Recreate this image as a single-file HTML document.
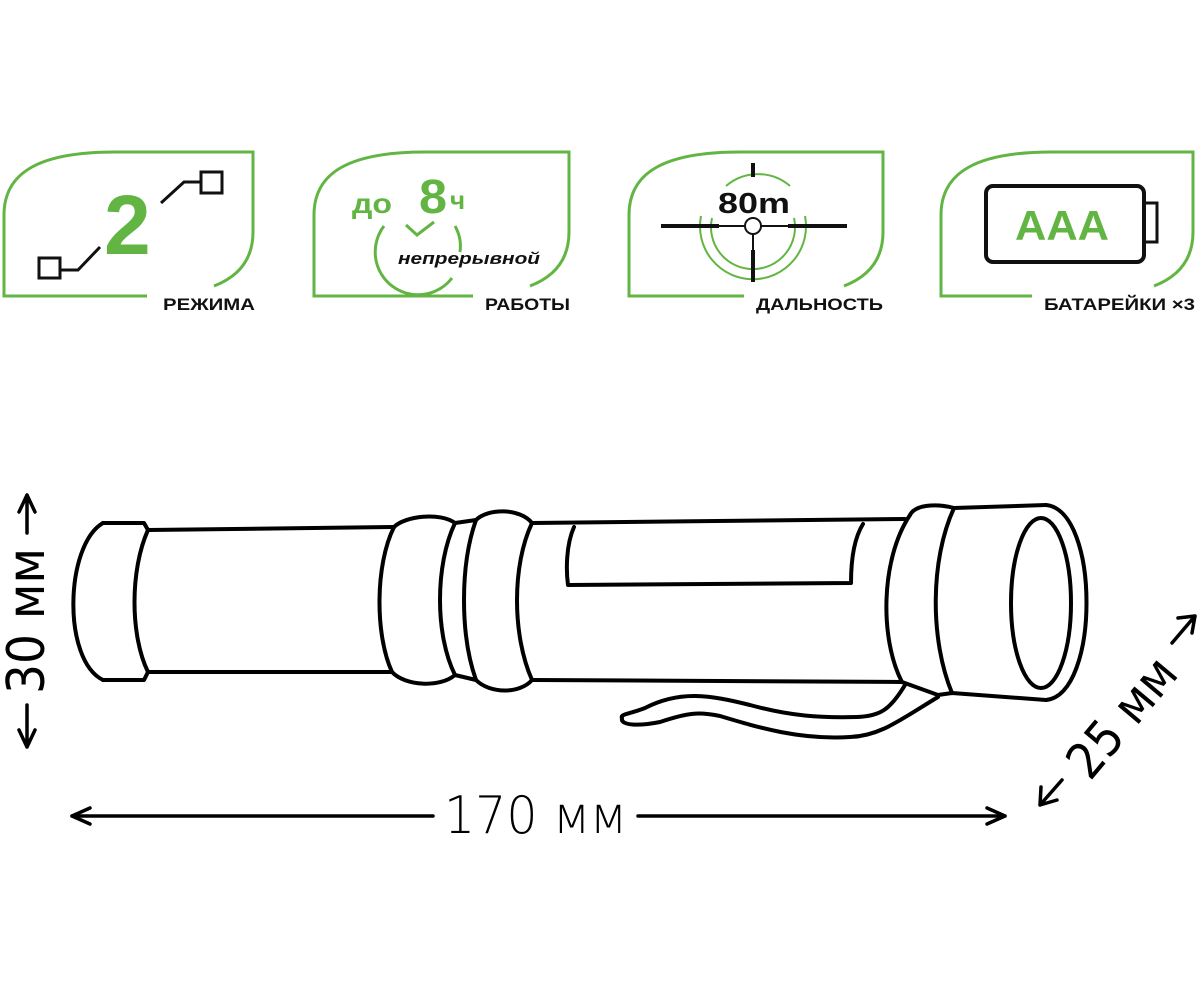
<!DOCTYPE html>
<html><head><meta charset="utf-8"><style>html,body{margin:0;padding:0;background:#fff}svg{display:block}</style></head>
<body>
<svg width="1200" height="982" viewBox="0 0 1200 982" xmlns="http://www.w3.org/2000/svg">
<rect width="1200" height="982" fill="#fff"/>
<g fill="none" stroke="#62b543" stroke-width="3">
  <path d="M147,296 H4 V215 C4,172 40,152 115,152 H253 V232 C253,258 240,276 214,286"/>
  <path d="M473,296 H314 V215 C314,172 350,152 425,152 H569 V232 C569,258 556,276 530,286"/>
  <path d="M744,296 H629 V215 C629,172 665,152 740,152 H883 V232 C883,258 870,276 844,286"/>
  <path d="M1032,296 H941 V215 C941,172 977,152 1052,152 H1193 V232 C1193,258 1180,276 1154,286"/>
</g>
<g font-family="'Liberation Sans', sans-serif" font-weight="bold" font-size="17" fill="#111">
  <text x="163" y="310" textLength="92" lengthAdjust="spacingAndGlyphs">РЕЖИМА</text>
  <text x="485" y="310" textLength="85" lengthAdjust="spacingAndGlyphs">РАБОТЫ</text>
  <text x="756" y="310" textLength="127" lengthAdjust="spacingAndGlyphs">ДАЛЬНОСТЬ</text>
  <text x="1044" y="310" textLength="151" lengthAdjust="spacingAndGlyphs">БАТАРЕЙКИ ×3</text>
</g>
<!-- panel 1 -->
<text x="104" y="254" font-family="'Liberation Sans', sans-serif" font-weight="bold" font-size="84" fill="#62b543">2</text>
<g fill="none" stroke="#111" stroke-width="3">
  <rect x="39" y="258" width="21" height="20"/>
  <path d="M60,270 H78 L100,247"/>
  <path d="M161,203 L184,182 H201"/>
  <rect x="201" y="172" width="21" height="21"/>
</g>
<!-- panel 2 -->
<g font-family="'Liberation Sans', sans-serif" font-weight="bold" fill="#62b543">
  <text x="352" y="213" font-size="28" textLength="40" lengthAdjust="spacingAndGlyphs">до</text>
  <text x="419" y="213" font-size="48" textLength="28" lengthAdjust="spacingAndGlyphs">8</text>
  <text x="450" y="209" font-size="26">ч</text>
</g>
<path d="M384,226 A41,41 0 0 0 452,278" fill="none" stroke="#62b543" stroke-width="3"/>
<path d="M455,226 A41,41 0 0 1 460,252" fill="none" stroke="#62b543" stroke-width="3"/>
<path d="M406,225 L417,235 L434,222" fill="none" stroke="#62b543" stroke-width="3"/>
<text x="398" y="264" font-family="'Liberation Sans', sans-serif" font-weight="bold" font-style="italic" font-size="17" fill="#111" textLength="142" lengthAdjust="spacingAndGlyphs">непрерывной</text>
<!-- panel 3 -->
<text x="718" y="213" font-family="'Liberation Sans', sans-serif" font-weight="bold" font-size="29" fill="#111" textLength="72" lengthAdjust="spacingAndGlyphs">80m</text>
<g fill="none" stroke="#62b543" stroke-width="2">
  <path d="M726,186 A49,49 0 0 1 790,186"/>
  <path d="M701,216 A53,53 0 1 0 805,216"/>
  <path d="M712,218 A42,42 0 1 0 794,218"/>
</g>
<g fill="none" stroke="#111">
  <path d="M661,226 H719 M788,226 H847 M753,163 V177 M753,250 V282" stroke-width="4"/>
  <path d="M719,226 H745 M761,226 H788 M753,234 V250" stroke-width="2"/>
  <circle cx="753" cy="226" r="8" stroke-width="2"/>
</g>
<!-- panel 4 -->
<rect x="986" y="186" width="158" height="76" rx="7" fill="none" stroke="#111" stroke-width="4"/>
<rect x="1144" y="203" width="13" height="39" fill="none" stroke="#111" stroke-width="3"/>
<text x="1015" y="240" font-family="'Liberation Sans', sans-serif" font-weight="bold" font-size="42" fill="#62b543" textLength="94" lengthAdjust="spacingAndGlyphs">AAA</text>

<!-- flashlight -->
<g fill="none" stroke="#000" stroke-width="4" stroke-linejoin="round" stroke-linecap="round">
  <path d="M103,523 H144 L148,530 M103,680 H144 L148,672"/>
  <path d="M103,523 C65,545 62,660 103,680"/>
  <path d="M148,530 C130,570 130,635 148,672"/>
  <path d="M148,530 L394,527 M148,672 L392,672"/>
  <path d="M394,527 C405,516 440,512 455,523 M392,672 C405,686 440,688 455,675"/>
  <path d="M394,527 C375,565 375,635 392,672"/>
  <path d="M455,523 C435,565 435,635 455,675"/>
  <path d="M455,523 L476,520 M455,675 L476,680"/>
  <path d="M476,520 C460,565 460,635 476,680"/>
  <path d="M476,520 C488,508 520,508 532,523 M476,680 C490,694 520,694 532,680"/>
  <path d="M532,523 C512,565 512,635 532,680"/>
  <path d="M532,523 L905,519 M532,680 L902,682"/>
  <path d="M574,527 C566,545 566,570 568,585 L851,583 C851,565 853,540 863,524"/>
  <path d="M910,515 C915,505 935,503 954,508 L1046,505"/>
  <path d="M910,515 C880,560 880,640 902,682"/>
  <path d="M954,508 C930,560 930,640 952,693"/>
  <path d="M902,682 L938,695 L952,693 L1046,700"/>
  <path d="M1046,505 C1100,510 1100,695 1046,700"/>
  <ellipse cx="1041" cy="603" rx="30" ry="85"/>
  <path d="M905,685 C890,710 880,716 857,717 C820,718 790,716 750,705 C710,695 680,690 645,708 C630,714 620,714 622,718 C620,726 640,726 660,722 C690,712 700,712 720,716 C760,728 800,740 850,737 C880,736 900,720 938,697"/>
</g>

<!-- dimensions -->
<g fill="none" stroke="#000" stroke-width="3.5" stroke-linecap="round" stroke-linejoin="round">
  <path d="M72,816 H433 M638,816 H1005"/>
  <path d="M90,808 L72,816 L90,824 M987,808 L1005,816 L987,824"/>
  <path d="M27,495 V533 M19,512 L27,495 L35,512"/>
  <path d="M27,705 V747 M19,730 L27,747 L35,730"/>
  <path d="M1040,805 L1062,780 M1041,787 L1040,805 L1057,800"/>
  <path d="M1172,643 L1195,616 M1178,618 L1195,616 L1192,633"/>
</g>
<text x="444" y="833" font-family="'DejaVu Sans', 'Liberation Sans', sans-serif" font-weight="300" font-size="52" fill="#000" textLength="183" lengthAdjust="spacingAndGlyphs">170 мм</text>
<text transform="translate(44,694) rotate(-90)" font-family="'DejaVu Sans', 'Liberation Sans', sans-serif" font-size="52" fill="#000" textLength="146" lengthAdjust="spacingAndGlyphs">30 мм</text>
<text transform="translate(1090,782) rotate(-50)" font-family="'DejaVu Sans', 'Liberation Sans', sans-serif" font-size="50" fill="#000" textLength="140" lengthAdjust="spacingAndGlyphs">25 мм</text>
</svg>
</body></html>
